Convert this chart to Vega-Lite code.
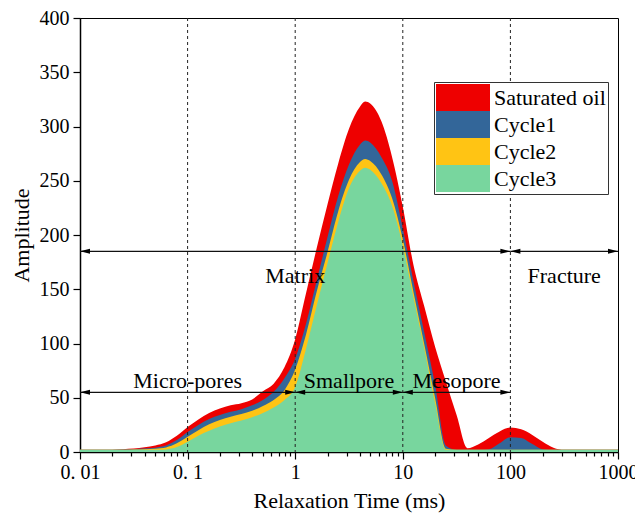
{
  "$schema": "https://vega.github.io/schema/vega-lite/v6.json",
  "width": 538,
  "height": 434,
  "autosize": {"type": "none"},
  "padding": {"left": 80, "top": 18, "right": 17, "bottom": 63},
  "background": "white",
  "config": {
    "font": "Liberation Serif",
    "view": {"stroke": "black", "strokeWidth": 1},
    "axis": {
      "grid": false,
      "domainColor": "black",
      "domainWidth": 1.5,
      "tickColor": "black",
      "tickWidth": 1.2,
      "labelFont": "Liberation Serif",
      "labelFontSize": 20,
      "labelColor": "black",
      "titleFont": "Liberation Serif",
      "titleFontSize": 22,
      "titleFontWeight": "normal",
      "titleColor": "black",
      "labelOverlap": false,
      "labelFlush": false
    },
    "legend": {
      "orient": "none",
      "legendX": 354,
      "legendY": 64,
      "title": null,
      "symbolType": "M-2,-1L2,-1L2,1L-2,1Z",
      "symbolSize": 729,
      "symbolOffset": 13.5,
      "symbolStrokeWidth": 0,
      "symbolOpacity": 1,
      "labelFont": "Liberation Serif",
      "labelFontSize": 22,
      "labelColor": "black",
      "labelOffset": 17.5,
      "labelLimit": 400,
      "strokeColor": "#333333",
      "fillColor": "white",
      "padding": 2,
      "rowPadding": 0
    }
  },
  "data": {
    "values": [
      {"series": "Saturated oil", "t": 0.01, "amp": 2},
      {"series": "Saturated oil", "t": 0.01585, "amp": 2},
      {"series": "Saturated oil", "t": 0.02512, "amp": 2.6},
      {"series": "Saturated oil", "t": 0.03162, "amp": 3.2},
      {"series": "Saturated oil", "t": 0.03981, "amp": 4.3},
      {"series": "Saturated oil", "t": 0.05012, "amp": 6},
      {"series": "Saturated oil", "t": 0.0631, "amp": 9},
      {"series": "Saturated oil", "t": 0.07943, "amp": 15},
      {"series": "Saturated oil", "t": 0.1, "amp": 23},
      {"series": "Saturated oil", "t": 0.1259, "amp": 30},
      {"series": "Saturated oil", "t": 0.1585, "amp": 36},
      {"series": "Saturated oil", "t": 0.1995, "amp": 40},
      {"series": "Saturated oil", "t": 0.2512, "amp": 43},
      {"series": "Saturated oil", "t": 0.3162, "amp": 45},
      {"series": "Saturated oil", "t": 0.3981, "amp": 48.5},
      {"series": "Saturated oil", "t": 0.5012, "amp": 56},
      {"series": "Saturated oil", "t": 0.631, "amp": 63},
      {"series": "Saturated oil", "t": 0.7943, "amp": 78},
      {"series": "Saturated oil", "t": 1, "amp": 104},
      {"series": "Saturated oil", "t": 1.259, "amp": 146},
      {"series": "Saturated oil", "t": 1.585, "amp": 188},
      {"series": "Saturated oil", "t": 1.995, "amp": 228},
      {"series": "Saturated oil", "t": 2.512, "amp": 266},
      {"series": "Saturated oil", "t": 3.162, "amp": 298},
      {"series": "Saturated oil", "t": 3.981, "amp": 318},
      {"series": "Saturated oil", "t": 4.467, "amp": 323},
      {"series": "Saturated oil", "t": 5.012, "amp": 321},
      {"series": "Saturated oil", "t": 6.31, "amp": 305},
      {"series": "Saturated oil", "t": 7.943, "amp": 272},
      {"series": "Saturated oil", "t": 10, "amp": 226},
      {"series": "Saturated oil", "t": 12.59, "amp": 172},
      {"series": "Saturated oil", "t": 15.85, "amp": 134},
      {"series": "Saturated oil", "t": 19.95, "amp": 97},
      {"series": "Saturated oil", "t": 25.12, "amp": 65},
      {"series": "Saturated oil", "t": 31.62, "amp": 34},
      {"series": "Saturated oil", "t": 39.81, "amp": 3.5},
      {"series": "Saturated oil", "t": 50.12, "amp": 7},
      {"series": "Saturated oil", "t": 63.1, "amp": 13},
      {"series": "Saturated oil", "t": 79.43, "amp": 19},
      {"series": "Saturated oil", "t": 100, "amp": 22.5},
      {"series": "Saturated oil", "t": 125.9, "amp": 21},
      {"series": "Saturated oil", "t": 158.5, "amp": 16},
      {"series": "Saturated oil", "t": 199.5, "amp": 9.5},
      {"series": "Saturated oil", "t": 251.2, "amp": 4},
      {"series": "Saturated oil", "t": 316.2, "amp": 2},
      {"series": "Saturated oil", "t": 501.2, "amp": 2},
      {"series": "Saturated oil", "t": 1000, "amp": 2},

      {"series": "Cycle1", "t": 0.01, "amp": 2},
      {"series": "Cycle1", "t": 0.01585, "amp": 2},
      {"series": "Cycle1", "t": 0.02512, "amp": 2.2},
      {"series": "Cycle1", "t": 0.03162, "amp": 2.6},
      {"series": "Cycle1", "t": 0.03981, "amp": 3.2},
      {"series": "Cycle1", "t": 0.05012, "amp": 4},
      {"series": "Cycle1", "t": 0.0631, "amp": 6},
      {"series": "Cycle1", "t": 0.07943, "amp": 11},
      {"series": "Cycle1", "t": 0.1, "amp": 18.5},
      {"series": "Cycle1", "t": 0.1259, "amp": 25},
      {"series": "Cycle1", "t": 0.1585, "amp": 30.5},
      {"series": "Cycle1", "t": 0.1995, "amp": 34},
      {"series": "Cycle1", "t": 0.2512, "amp": 37},
      {"series": "Cycle1", "t": 0.3162, "amp": 39.5},
      {"series": "Cycle1", "t": 0.3981, "amp": 43},
      {"series": "Cycle1", "t": 0.5012, "amp": 48},
      {"series": "Cycle1", "t": 0.631, "amp": 55.5},
      {"series": "Cycle1", "t": 0.7943, "amp": 68},
      {"series": "Cycle1", "t": 1, "amp": 86},
      {"series": "Cycle1", "t": 1.259, "amp": 118},
      {"series": "Cycle1", "t": 1.585, "amp": 158},
      {"series": "Cycle1", "t": 1.995, "amp": 198},
      {"series": "Cycle1", "t": 2.512, "amp": 236},
      {"series": "Cycle1", "t": 3.162, "amp": 265},
      {"series": "Cycle1", "t": 3.981, "amp": 283},
      {"series": "Cycle1", "t": 4.467, "amp": 287},
      {"series": "Cycle1", "t": 5.012, "amp": 285},
      {"series": "Cycle1", "t": 6.31, "amp": 272},
      {"series": "Cycle1", "t": 7.943, "amp": 250},
      {"series": "Cycle1", "t": 10, "amp": 206},
      {"series": "Cycle1", "t": 12.59, "amp": 157},
      {"series": "Cycle1", "t": 15.85, "amp": 110},
      {"series": "Cycle1", "t": 19.95, "amp": 62},
      {"series": "Cycle1", "t": 25.12, "amp": 6},
      {"series": "Cycle1", "t": 31.62, "amp": 2},
      {"series": "Cycle1", "t": 39.81, "amp": 2},
      {"series": "Cycle1", "t": 50.12, "amp": 2},
      {"series": "Cycle1", "t": 63.1, "amp": 2.5},
      {"series": "Cycle1", "t": 79.43, "amp": 8},
      {"series": "Cycle1", "t": 100, "amp": 13.5},
      {"series": "Cycle1", "t": 125.9, "amp": 13},
      {"series": "Cycle1", "t": 158.5, "amp": 7.5},
      {"series": "Cycle1", "t": 199.5, "amp": 2.5},
      {"series": "Cycle1", "t": 251.2, "amp": 2},
      {"series": "Cycle1", "t": 501.2, "amp": 2},
      {"series": "Cycle1", "t": 1000, "amp": 2},

      {"series": "Cycle2", "t": 0.01, "amp": 2},
      {"series": "Cycle2", "t": 0.02512, "amp": 2},
      {"series": "Cycle2", "t": 0.03162, "amp": 2.2},
      {"series": "Cycle2", "t": 0.03981, "amp": 2.6},
      {"series": "Cycle2", "t": 0.05012, "amp": 3},
      {"series": "Cycle2", "t": 0.0631, "amp": 4.2},
      {"series": "Cycle2", "t": 0.07943, "amp": 8},
      {"series": "Cycle2", "t": 0.1, "amp": 14},
      {"series": "Cycle2", "t": 0.1259, "amp": 20},
      {"series": "Cycle2", "t": 0.1585, "amp": 25.5},
      {"series": "Cycle2", "t": 0.1995, "amp": 29.5},
      {"series": "Cycle2", "t": 0.2512, "amp": 32.5},
      {"series": "Cycle2", "t": 0.3162, "amp": 35},
      {"series": "Cycle2", "t": 0.3981, "amp": 38},
      {"series": "Cycle2", "t": 0.5012, "amp": 42.5},
      {"series": "Cycle2", "t": 0.631, "amp": 48},
      {"series": "Cycle2", "t": 0.7943, "amp": 57},
      {"series": "Cycle2", "t": 1, "amp": 76},
      {"series": "Cycle2", "t": 1.259, "amp": 108},
      {"series": "Cycle2", "t": 1.585, "amp": 148},
      {"series": "Cycle2", "t": 1.995, "amp": 184},
      {"series": "Cycle2", "t": 2.512, "amp": 222},
      {"series": "Cycle2", "t": 3.162, "amp": 251},
      {"series": "Cycle2", "t": 3.981, "amp": 267},
      {"series": "Cycle2", "t": 4.467, "amp": 270},
      {"series": "Cycle2", "t": 5.012, "amp": 268},
      {"series": "Cycle2", "t": 6.31, "amp": 256},
      {"series": "Cycle2", "t": 7.943, "amp": 234},
      {"series": "Cycle2", "t": 10, "amp": 196},
      {"series": "Cycle2", "t": 12.59, "amp": 147},
      {"series": "Cycle2", "t": 15.85, "amp": 99},
      {"series": "Cycle2", "t": 19.95, "amp": 50},
      {"series": "Cycle2", "t": 25.12, "amp": 3},
      {"series": "Cycle2", "t": 31.62, "amp": 2},
      {"series": "Cycle2", "t": 100, "amp": 2},
      {"series": "Cycle2", "t": 1000, "amp": 2},

      {"series": "Cycle3", "t": 0.01, "amp": 2},
      {"series": "Cycle3", "t": 0.03981, "amp": 2},
      {"series": "Cycle3", "t": 0.05012, "amp": 2},
      {"series": "Cycle3", "t": 0.0631, "amp": 2.3},
      {"series": "Cycle3", "t": 0.07943, "amp": 4.5},
      {"series": "Cycle3", "t": 0.1, "amp": 9.5},
      {"series": "Cycle3", "t": 0.1259, "amp": 15},
      {"series": "Cycle3", "t": 0.1585, "amp": 19.5},
      {"series": "Cycle3", "t": 0.1995, "amp": 23.5},
      {"series": "Cycle3", "t": 0.2512, "amp": 26.5},
      {"series": "Cycle3", "t": 0.3162, "amp": 29},
      {"series": "Cycle3", "t": 0.3981, "amp": 32},
      {"series": "Cycle3", "t": 0.5012, "amp": 36},
      {"series": "Cycle3", "t": 0.631, "amp": 41},
      {"series": "Cycle3", "t": 0.7943, "amp": 48},
      {"series": "Cycle3", "t": 1, "amp": 60},
      {"series": "Cycle3", "t": 1.259, "amp": 95},
      {"series": "Cycle3", "t": 1.585, "amp": 135},
      {"series": "Cycle3", "t": 1.995, "amp": 174},
      {"series": "Cycle3", "t": 2.512, "amp": 212},
      {"series": "Cycle3", "t": 3.162, "amp": 243},
      {"series": "Cycle3", "t": 3.981, "amp": 259},
      {"series": "Cycle3", "t": 4.467, "amp": 262},
      {"series": "Cycle3", "t": 5.012, "amp": 260},
      {"series": "Cycle3", "t": 6.31, "amp": 248},
      {"series": "Cycle3", "t": 7.943, "amp": 227},
      {"series": "Cycle3", "t": 10, "amp": 190},
      {"series": "Cycle3", "t": 12.59, "amp": 142},
      {"series": "Cycle3", "t": 15.85, "amp": 95},
      {"series": "Cycle3", "t": 19.95, "amp": 45},
      {"series": "Cycle3", "t": 25.12, "amp": 2},
      {"series": "Cycle3", "t": 31.62, "amp": 2},
      {"series": "Cycle3", "t": 100, "amp": 2},
      {"series": "Cycle3", "t": 1000, "amp": 2}
    ]
  },
  "layer": [
    {
      "transform": [{"filter": "datum.series === 'Saturated oil'"}],
      "mark": {"type": "area", "interpolate": "monotone", "opacity": 1},
      "encoding": {
        "x": {"field": "t", "type": "quantitative", "title": "Relaxation Time (ms)",
              "scale": {"type": "log", "domain": [0.01, 1000], "nice": false},
              "axis": {
                "values": [0.01,0.02,0.03,0.04,0.05,0.06,0.07,0.08,0.09,0.1,0.2,0.3,0.4,0.5,0.6,0.7,0.8,0.9,1,2,3,4,5,6,7,8,9,10,20,30,40,50,60,70,80,90,100,200,300,400,500,600,700,800,900,1000],
                "labelExpr": "datum.value == 0.01 ? '0. 01' : datum.value == 0.1 ? '0. 1' : (datum.value == 1 || datum.value == 10 || datum.value == 100 || datum.value == 1000) ? format(datum.value, 'd') : ''",
                "tickSize": {"condition": {"test": "datum.value == 0.01 || datum.value == 0.1 || datum.value == 1 || datum.value == 10 || datum.value == 100 || datum.value == 1000", "value": 7}, "value": 4},
                "labelPadding": 3,
                "titlePadding": 8
              }},
        "y": {"field": "amp", "type": "quantitative", "title": "Amplitude",
              "scale": {"domain": [0, 400], "nice": false},
              "axis": {
                "values": [0,25,50,75,100,125,150,175,200,225,250,275,300,325,350,375,400],
                "labelExpr": "datum.value % 50 == 0 ? datum.label : ''",
                "tickSize": {"condition": {"test": "datum.value % 50 == 0", "value": 7}, "value": 4},
                "labelPadding": 4,
                "titlePadding": 6
              }},
        "color": {"field": "series", "type": "nominal",
                  "scale": {"domain": ["Saturated oil", "Cycle1", "Cycle2", "Cycle3"],
                            "range": ["#EE0000", "#336699", "#FFC414", "#78D69E"]}}
      }
    },
    {
      "transform": [{"filter": "datum.series === 'Cycle1'"}],
      "mark": {"type": "area", "interpolate": "monotone", "opacity": 1},
      "encoding": {
        "x": {"field": "t", "type": "quantitative", "title": "Relaxation Time (ms)"},
        "y": {"field": "amp", "type": "quantitative", "title": "Amplitude"},
        "color": {"field": "series", "type": "nominal"}
      }
    },
    {
      "transform": [{"filter": "datum.series === 'Cycle2'"}],
      "mark": {"type": "area", "interpolate": "monotone", "opacity": 1},
      "encoding": {
        "x": {"field": "t", "type": "quantitative", "title": "Relaxation Time (ms)"},
        "y": {"field": "amp", "type": "quantitative", "title": "Amplitude"},
        "color": {"field": "series", "type": "nominal"}
      }
    },
    {
      "transform": [{"filter": "datum.series === 'Cycle3'"}],
      "mark": {"type": "area", "interpolate": "monotone", "opacity": 1},
      "encoding": {
        "x": {"field": "t", "type": "quantitative", "title": "Relaxation Time (ms)"},
        "y": {"field": "amp", "type": "quantitative", "title": "Amplitude"},
        "color": {"field": "series", "type": "nominal"}
      }
    },
    {
      "data": {"values": [{"t": 0.1}, {"t": 1}, {"t": 10}, {"t": 100}]},
      "mark": {"type": "rule", "color": "#222222", "strokeWidth": 1, "strokeDash": [3, 3]},
      "encoding": {
        "x": {"field": "t", "type": "quantitative", "title": "Relaxation Time (ms)"}
      }
    },
    {
      "data": {"name": "arrows", "values": [
        {"label": "Matrix", "x1": 0.01, "x2": 100, "y": 185, "mid": 1},
        {"label": "Fracture", "x1": 100, "x2": 1000, "y": 185, "mid": 316.2},
        {"label": "Micro-pores", "x1": 0.01, "x2": 1, "y": 55, "mid": 0.1},
        {"label": "Smallpore", "x1": 1, "x2": 10, "y": 55, "mid": 3.162},
        {"label": "Mesopore", "x1": 10, "x2": 100, "y": 55, "mid": 31.62}
      ]},
      "layer": [
        {
          "mark": {"type": "rule", "color": "#111111", "strokeWidth": 1.2},
          "encoding": {
            "x": {"field": "x1", "type": "quantitative", "title": "Relaxation Time (ms)"},
            "x2": {"field": "x2"},
            "y": {"field": "y", "type": "quantitative", "title": "Amplitude"}
          }
        },
        {
          "mark": {"type": "point", "shape": "M0,0L2,-0.5L2,0.5Z", "size": 100, "filled": true, "color": "black", "opacity": 1},
          "encoding": {
            "x": {"field": "x1", "type": "quantitative", "title": "Relaxation Time (ms)"},
            "y": {"field": "y", "type": "quantitative", "title": "Amplitude"}
          }
        },
        {
          "mark": {"type": "point", "shape": "M0,0L-2,-0.5L-2,0.5Z", "size": 100, "filled": true, "color": "black", "opacity": 1},
          "encoding": {
            "x": {"field": "x2", "type": "quantitative", "title": "Relaxation Time (ms)"},
            "y": {"field": "y", "type": "quantitative", "title": "Amplitude"}
          }
        },
        {
          "transform": [{"filter": "datum.y > 100"}],
          "mark": {"type": "text", "font": "Liberation Serif", "fontSize": 22, "color": "black", "baseline": "alphabetic", "align": "center", "dy": 32},
          "encoding": {
            "x": {"field": "mid", "type": "quantitative", "title": "Relaxation Time (ms)"},
            "y": {"field": "y", "type": "quantitative", "title": "Amplitude"},
            "text": {"field": "label"}
          }
        },
        {
          "transform": [{"filter": "datum.y < 100"}],
          "mark": {"type": "text", "font": "Liberation Serif", "fontSize": 22, "color": "black", "baseline": "alphabetic", "align": "center", "dy": -4},
          "encoding": {
            "x": {"field": "mid", "type": "quantitative", "title": "Relaxation Time (ms)"},
            "y": {"field": "y", "type": "quantitative", "title": "Amplitude"},
            "text": {"field": "label"}
          }
        }
      ]
    }
  ]
}
